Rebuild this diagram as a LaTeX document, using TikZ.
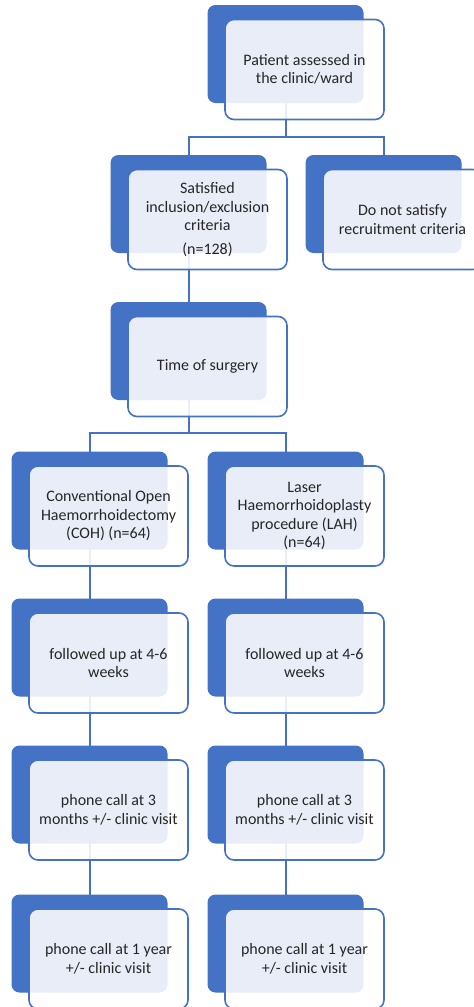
\documentclass[tikz,border=0pt]{standalone}
\usepackage{fontspec}
\setmainfont{Carlito}
\definecolor{boxblue}{HTML}{4472C4}
\begin{document}
\begin{tikzpicture}[x=1pt,y=-1pt,
    back/.style={fill=boxblue, rounded corners=8pt, minimum width=156pt, minimum height=98pt, inner sep=0pt},
    front/.style={draw=boxblue, line width=1.6pt, fill=white, fill opacity=0.88, text opacity=1,
        rounded corners=9pt, minimum width=159pt, minimum height=100pt, inner sep=0pt, align=center,
        text=black!85, font=\fontsize{16}{18.5}\selectfont},
    link/.style={draw=boxblue, line width=2pt}]
    \useasboundingbox (0,0) rectangle (474,1007);
    \clip (0,0) rectangle (474,1007);

    % back plates
    \node[back] (top) at (285.5,54) {};
    \node[back] (sat) at (188.5,204) {};
    \node[back] (notsat) at (383.5,204) {};
    \node[back] (surg) at (188.5,351) {};
    \foreach \y/\n in {500.5/1,647.5/2,794.5/3,943.5/4} {
        \node[back] (coh\n) at (89.5,\y) {};
        \node[back] (lah\n) at (285.5,\y) {};
    }

    % connectors
    \coordinate (j1) at (285.5,137);
    \draw[link] (top.center) -- (j1) -| (sat.center);
    \draw[link] (j1) -| (notsat.center);
    \draw[link] (sat.center) -- (surg.center);
    \coordinate (j2) at (188.5,433);
    \draw[link] (surg.center) -- (j2) -| (coh1.center);
    \draw[link] (j2) -| (lah1.center);
    \foreach \a/\b in {1/2,2/3,3/4} {
        \draw[link] (coh\a.center) -- (coh\b.center);
        \draw[link] (lah\a.center) -- (lah\b.center);
    }

    % text boxes
    \node[front] (topt) at ([shift={(19,15.5)}]top.center) {Patient assessed in\\the clinic/ward};
    \node[front] (satt) at ([shift={(19,15.5)}]sat.center) {Satisfied\\inclusion/exclusion\\criteria\\[5pt](n=128)};
    \node[front] (notsatt) at ([shift={(19,15.5)}]notsat.center) {Do not satisfy\\recruitment criteria};
    \node[front] (surgt) at ([shift={(19,15.5)}]surg.center) {Time of surgery};
    \node[front] (coht1) at ([shift={(19,15.5)}]coh1.center) {Conventional Open\\Haemorrhoidectomy\\(COH) (n=64)};
    \node[front] (laht1) at ([shift={(19,15.5)}]lah1.center) {Laser\\Haemorrhoidoplasty\\procedure (LAH)\\(n=64)};
    \node[front] (coht2) at ([shift={(19,15.5)}]coh2.center) {followed up at 4-6\\weeks};
    \node[front] (laht2) at ([shift={(19,15.5)}]lah2.center) {followed up at 4-6\\weeks};
    \node[front] (coht3) at ([shift={(19,15.5)}]coh3.center) {phone call at 3\\months +/- clinic visit};
    \node[front] (laht3) at ([shift={(19,15.5)}]lah3.center) {phone call at 3\\months +/- clinic visit};
    \node[front] (coht4) at ([shift={(19,15.5)}]coh4.center) {phone call at 1 year\\+/- clinic visit};
    \node[front] (laht4) at ([shift={(19,15.5)}]lah4.center) {phone call at 1 year\\+/- clinic visit};
\end{tikzpicture}
\end{document}
